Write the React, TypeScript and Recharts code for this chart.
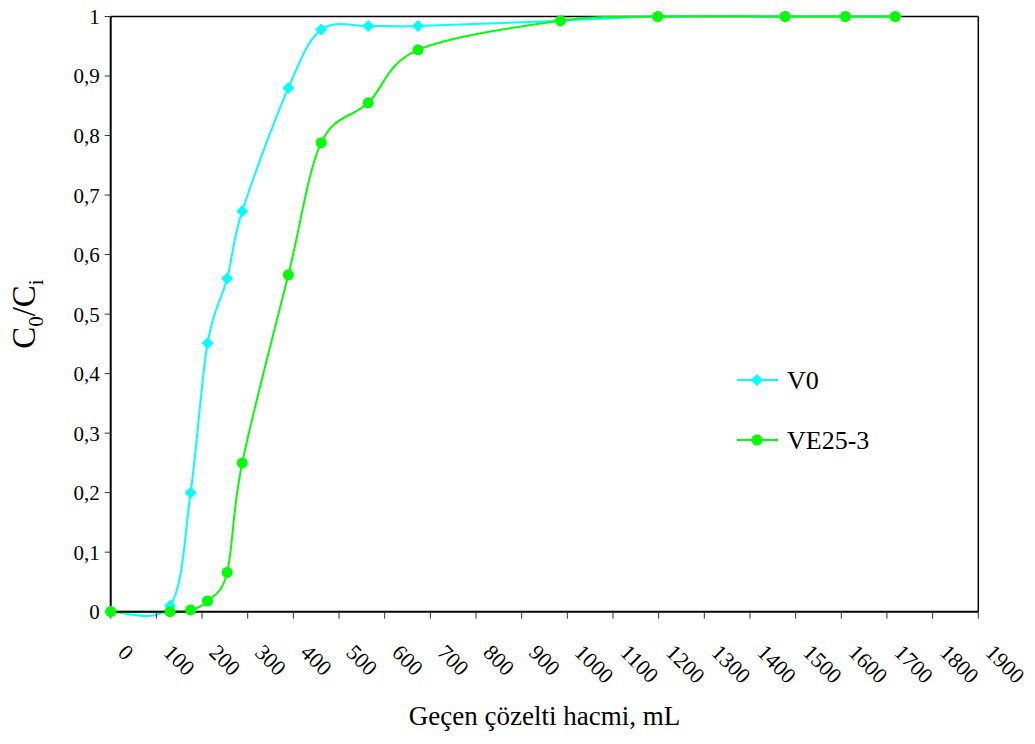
import React from "react";
import {
  LineChart,
  Line,
  XAxis,
  YAxis,
  Legend,
  ReferenceLine,
} from "recharts";

// cumulative volume passed (mL), shared by both series
const volume = [0, 130, 175, 212, 255, 288, 389, 461, 564, 673, 985, 1198, 1477, 1609, 1718];
const v0 = [0, 0.01, 0.2, 0.451, 0.56, 0.673, 0.88, 0.978, 0.984, 0.984, 0.993, 1, 1, 1, 1];
const ve253 = [0, 0, 0.003, 0.018, 0.066, 0.25, 0.566, 0.788, 0.855, 0.944, 0.993, 1, 1, 1, 1];

const xTicks = [0, 100, 200, 300, 400, 500, 600, 700, 800, 900, 1000, 1100, 1200, 1300, 1400, 1500, 1600, 1700, 1800, 1900];
const yTicks = [0, 0.1, 0.2, 0.3, 0.4, 0.5, 0.6, 0.7, 0.8, 0.9, 1];

const data = volume.map((x, i) => ({ x, v0: v0[i], ve: ve253[i] }));

const FONT = "'Liberation Serif', 'Times New Roman', 'DejaVu Serif', serif";
const CYAN = "#00FFFF";
const GREEN = "#00FF00";

// excel-like smoothed line (catmull-rom as cubic bezier)
const smoothCurve = (context: any) => {
  let pts: number[][] = [];
  return {
    areaStart() {},
    areaEnd() {},
    lineStart() {
      pts = [];
    },
    point(x: number, y: number) {
      pts.push([+x, +y]);
    },
    lineEnd() {
      if (!pts.length) return;
      context.moveTo(pts[0][0], pts[0][1]);
      for (let i = 0; i < pts.length - 1; i++) {
        const p0 = pts[i - 1] || pts[i];
        const p1 = pts[i];
        const p2 = pts[i + 1];
        const p3 = pts[i + 2] || p2;
        context.bezierCurveTo(
          p1[0] + (p2[0] - p0[0]) / 6,
          p1[1] + (p2[1] - p0[1]) / 6,
          p2[0] - (p3[0] - p1[0]) / 6,
          p2[1] - (p3[1] - p1[1]) / 6,
          p2[0],
          p2[1]
        );
      }
    },
  };
};

const Diamond = ({ cx, cy }: any) => {
  if (cx == null || cy == null) return null;
  const s = 6;
  return (
    <polygon
      points={`${cx},${cy - s} ${cx + s},${cy} ${cx},${cy + s} ${cx - s},${cy}`}
      fill={CYAN}
    />
  );
};

const Circle = ({ cx, cy }: any) => {
  if (cx == null || cy == null) return null;
  return <circle cx={cx} cy={cy} r={5.5} fill={GREEN} />;
};

const XTick = ({ x, y, payload }: any) => {
  const tx = x + 6;
  const ty = y + 35;
  return (
    <text
      x={tx}
      y={ty}
      transform={`rotate(45, ${tx}, ${ty})`}
      textAnchor="start"
      fontFamily={FONT}
      fontSize={22}
      fill="#000"
    >
      {payload.value}
    </text>
  );
};

const YTitle = ({ viewBox }: any) => {
  const cx = 24;
  const cy = viewBox.y + viewBox.height / 2;
  return (
    <text
      x={cx}
      y={cy}
      transform={`rotate(-90, ${cx}, ${cy})`}
      textAnchor="middle"
      dominantBaseline="central"
      fontFamily={FONT}
      fontSize={33}
      fill="#000"
    >
      C<tspan fontSize={21} baselineShift="sub">0</tspan>/C<tspan fontSize={21} baselineShift="sub">i</tspan>
    </text>
  );
};

const LegendBox = () => (
  <svg width={180} height={100} style={{ display: "block" }}>
    <line x1={4} y1={17} x2={45} y2={17} stroke={CYAN} strokeWidth={2} />
    <Diamond cx={24} cy={17} />
    <text x={54} y={17} dominantBaseline="central" fontFamily={FONT} fontSize={26} fill="#000">
      V0
    </text>
    <line x1={4} y1={77} x2={45} y2={77} stroke={GREEN} strokeWidth={2} />
    <Circle cx={24} cy={77} />
    <text x={54} y={77} dominantBaseline="central" fontFamily={FONT} fontSize={26} fill="#000">
      VE25-3
    </text>
  </svg>
);

export default function App() {
  return (
    <div style={{ width: 1035, height: 744, margin: -8, background: "#fff" }}>
      <LineChart
        width={1035}
        height={744}
        data={data}
        margin={{ top: 16.5, right: 56.7, left: 30.7, bottom: 52.3 }}
      >
        <XAxis
          dataKey="x"
          type="number"
          domain={[0, 1900]}
          ticks={xTicks}
          interval={0}
          height={80}
          tickSize={7}
          tickMargin={0}
          tick={<XTick />}
          axisLine={{ stroke: "#000", strokeWidth: 2 }}
          tickLine={{ stroke: "#333" }}
          label={{
            value: "Geçen çözelti hacmi, mL",
            position: "bottom",
            offset: 14,
            style: { fontFamily: FONT, fontSize: 27, fill: "#000" },
          }}
        />
        <YAxis
          type="number"
          domain={[0, 1]}
          ticks={yTicks}
          interval={0}
          width={80}
          tickSize={6}
          tickMargin={5}
          tickFormatter={(v: number) => String(v).replace(".", ",")}
          tick={{ fontSize: 21, fill: "#000", fontFamily: FONT }}
          axisLine={{ stroke: "#000", strokeWidth: 2 }}
          tickLine={{ stroke: "#333" }}
          label={<YTitle />}
        />
        <ReferenceLine y={1} stroke="#000" strokeWidth={1.5} />
        <ReferenceLine x={1900} stroke="#000" strokeWidth={1.5} />
        <Legend
          layout="vertical"
          align="center"
          verticalAlign="middle"
          wrapperStyle={{ left: 733, top: 363, width: 180 }}
          content={<LegendBox />}
        />
        <Line
          dataKey="v0"
          name="V0"
          type={smoothCurve as any}
          stroke={CYAN}
          strokeWidth={2}
          dot={<Diamond />}
          activeDot={false}
          isAnimationActive={false}
        />
        <Line
          dataKey="ve"
          name="VE25-3"
          type={smoothCurve as any}
          stroke={GREEN}
          strokeWidth={2}
          dot={<Circle />}
          activeDot={false}
          isAnimationActive={false}
        />
      </LineChart>
    </div>
  );
}
